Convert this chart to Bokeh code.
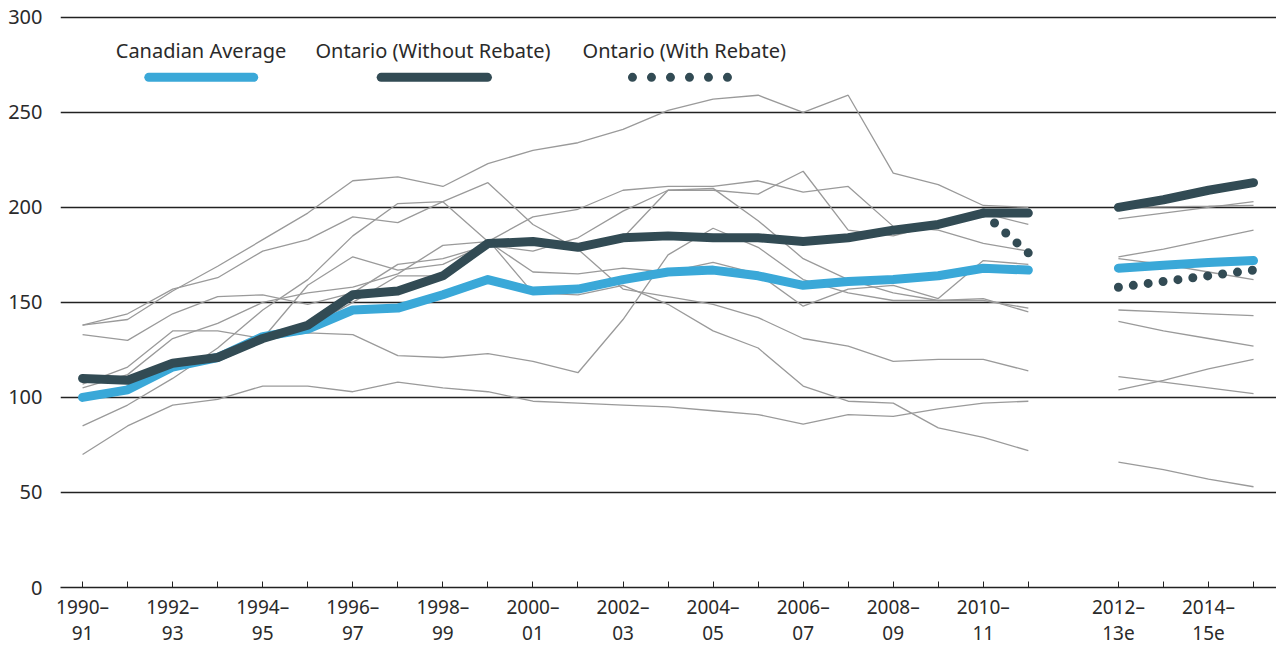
from bokeh.plotting import figure
from bokeh.models import FixedTicker, Range1d, Label
from bokeh.embed import file_html
from bokeh.resources import INLINE

# ---------------- data ----------------
hist_years = ["1990–91", "1991–92", "1992–93", "1993–94", "1994–95", "1995–96",
              "1996–97", "1997–98", "1998–99", "1999–00", "2000–01", "2001–02",
              "2002–03", "2003–04", "2004–05", "2005–06", "2006–07", "2007–08",
              "2008–09", "2009–10", "2010–11", "2011–12"]
fc_years = ["2012–13e", "2013–14e", "2014–15e", "2015–16e"]

tick_labels = {"1990–91": "1990–\n91", "1992–93": "1992–\n93", "1994–95": "1994–\n95",
               "1996–97": "1996–\n97", "1998–99": "1998–\n99", "2000–01": "2000–\n01",
               "2002–03": "2002–\n03", "2004–05": "2004–\n05", "2006–07": "2006–\n07",
               "2008–09": "2008–\n09", "2010–11": "2010–\n11",
               "2012–13e": "2012–\n13e", "2014–15e": "2014–\n15e"}

canada_hist = [100, 104, 116, 121, 132, 136, 146, 147, 154, 162, 156, 157, 162, 166, 167,
               164, 159, 161, 162, 164, 168, 167]
canada_fc = [168, 169.5, 171, 172]

ontario_hist = [110, 109, 118, 121, 131, 138, 154, 156, 164, 181, 182, 179, 184, 185, 184,
                184, 182, 184, 188, 191, 197, 197]
ontario_fc = [200, 204, 209, 213]

# with rebate: last two historical years and the forecast
rebate_hist_years = ["2010–11", "2011–12"]
rebate_hist = [197, 176]
rebate_fc = [158, 161, 164, 167]

others_hist = [
    [138, 141, 156, 169, 183, 197, 214, 216, 211, 223, 230, 234, 241, 251, 257, 259, 250, 259, 218, 212, 201, 200],
    [138, 144, 157, 163, 177, 183, 195, 192, 203, 213, 191, 178, 157, 153, 149, 142, 131, 127, 119, 120, 120, 114],
    [85, 96, 110, 126, 146, 162, 185, 202, 203, 182, 195, 199, 209, 211, 211, 214, 208, 211, 190, 188, 181, 177],
    [105, 112, 131, 139, 150, 155, 158, 165, 180, 182, 166, 165, 168, 166, 171, 165, 148, 157, 159, 152, 172, 170],
    [133, 130, 144, 153, 154, 149, 155, 170, 173, 180, 177, 184, 198, 209, 209, 207, 219, 188, 185, 191, 197, 191],
    [110, 109, 118, 121, 131, 159, 174, 167, 170, 181, 182, 179, 184, 209, 210, 193, 173, 162, 155, 151, 151, 147],
    [100, 104, 116, 121, 132, 137, 150, 164, 164, 183, 155, 154, 159, 149, 135, 126, 106, 98, 97, 84, 79, 72],
    [107, 116, 135, 135, 131, 134, 133, 122, 121, 123, 119, 113, 141, 175, 189, 179, 162, 155, 151, 151, 152, 145],
    [70, 85, 96, 99, 106, 106, 103, 108, 105, 103, 98, 97, 96, 95, 93, 91, 86, 91, 90, 94, 97, 98],
]
others_fc = [
    [200, 200.3, 200.6, 201],
    [111, 108, 105, 102],
    [174, 178, 183, 188],
    [173, 170, 166, 162],
    [194, 197, 200, 203],
    [146, 145, 144, 143],
    [66, 62, 57, 53],
    [140, 135, 131, 127],
    [104, 109, 115, 120],
]

legend_names = ["Canadian Average", "Ontario (Without Rebate)", "Ontario (With Rebate)"]
y_ticks = [0, 50, 100, 150, 200, 250, 300]

# ---------------- positions on the axis (one empty slot between history and forecast) ----------------
pos = {y: i for i, y in enumerate(hist_years)}
for j, y in enumerate(fc_years):
    pos[y] = len(hist_years) + 1 + j
hx = [pos[y] for y in hist_years]
fx = [pos[y] for y in fc_years]

BLUE = "#3aa8d8"
DARK = "#324b54"
GREY = "#9a9a9a"
TXT = "#2a2a2a"
FONT = "Noto Sans"

p = figure(width=1276, height=648, output_backend="svg", toolbar_location=None,
           x_range=Range1d(-0.49, 26.51), y_range=Range1d(0, 302),
           min_border_left=60, min_border_right=0, min_border_top=13, min_border_bottom=61)
p.outline_line_color = None
p.background_fill_color = "white"
p.border_fill_color = "white"

p.xgrid.grid_line_color = None
p.ygrid.ticker = FixedTicker(ticks=[t for t in y_ticks if t > 0])
p.ygrid.grid_line_color = "#222222"
p.ygrid.grid_line_width = 1.3

p.yaxis.ticker = FixedTicker(ticks=y_ticks)
p.yaxis.axis_line_color = None
p.yaxis.major_tick_line_color = None
p.yaxis.minor_tick_line_color = None
p.yaxis.major_label_text_font = FONT
p.yaxis.major_label_text_font_size = "20px"
p.yaxis.major_label_text_color = TXT
p.yaxis.major_label_standoff = 12

p.xaxis.ticker = FixedTicker(ticks=hx + fx)
p.xaxis.major_label_overrides = {t: tick_labels.get(y, "") for y, t in pos.items()}
p.xaxis.axis_line_color = "#222222"
p.xaxis.axis_line_width = 1.3
p.xaxis.major_tick_in = 6
p.xaxis.major_tick_out = 0
p.xaxis.major_tick_line_color = "#222222"
p.xaxis.minor_tick_line_color = None
p.xaxis.major_label_text_font = FONT
p.xaxis.major_label_text_font_size = "19px"
p.xaxis.major_label_text_color = TXT
p.xaxis.major_label_standoff = 6
p.xaxis.major_label_text_line_height = 1.0

# grey province lines
for h, f in zip(others_hist, others_fc):
    p.line(hx, h, line_color=GREY, line_width=1.3)
    p.line(fx, f, line_color=GREY, line_width=1.3)

# Ontario with rebate (dotted)
DOT = dict(line_color=DARK, line_width=9, line_dash="0 15", line_cap="round")
p.line([pos[y] for y in rebate_hist_years], rebate_hist, **DOT)
p.line(fx, rebate_fc, **DOT)

# Canadian average
p.line(hx, canada_hist, line_color=BLUE, line_width=9, line_cap="round", line_join="round")
p.line(fx, canada_fc, line_color=BLUE, line_width=9, line_cap="round", line_join="round")

# Ontario without rebate
p.line(hx, ontario_hist, line_color=DARK, line_width=9, line_cap="round", line_join="round")
p.line(fx, ontario_fc, line_color=DARK, line_width=9, line_cap="round", line_join="round")

# ---------------- legend (label above a sample line) ----------------
leg_y_text = 282.5
leg_y_line = 268.4
leg_items = [
    (legend_names[0], 2.63, (1.47, 3.80), dict(line_color=BLUE, line_width=9, line_cap="round")),
    (legend_names[1], 7.78, (6.63, 8.99), dict(line_color=DARK, line_width=9, line_cap="round")),
    (legend_names[2], 13.36, (12.21, 14.33), dict(line_color=DARK, line_width=9, line_cap="round", line_dash="0 19")),
]
for name, cx, (x0, x1), style in leg_items:
    p.add_layout(Label(x=cx, y=leg_y_text, text=name, text_align="center", text_baseline="middle",
                       text_font=FONT, text_font_size="20px", text_color=TXT))
    p.line([x0, x1], [leg_y_line, leg_y_line], **style)

open("out.html", "w").write(file_html(p, INLINE))
